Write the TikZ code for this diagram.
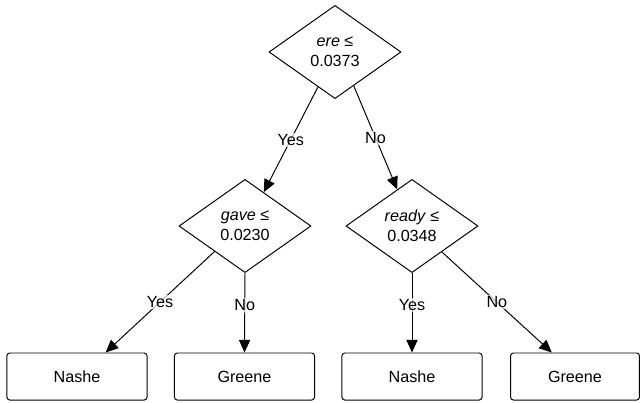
\documentclass[tikz,border=0pt]{standalone}
\usepackage{fontspec}
\setmainfont{Liberation Sans}
\usetikzlibrary{shapes, arrows.meta}

\begin{document}
\begin{tikzpicture}[x=0.025cm, y=-0.025cm,
    split/.style={draw, diamond, line width=0.7pt, minimum width=3.3cm, minimum height=2.33cm, inner sep=0pt, align=center, font=\fontsize{11.5}{14}\selectfont},
    leaf/.style={draw, rectangle, rounded corners=2pt, line width=0.7pt, minimum width=3.5cm, minimum height=1.175cm, inner sep=0pt, font=\fontsize{11.5}{14}\selectfont},
    branch/.style={line width=0.7pt, -{Triangle[length=9pt, width=8pt]}},
    lbl/.style={fill=white, fill opacity=0.7, text opacity=1, inner sep=1pt, font=\fontsize{11.5}{14}\selectfont}]
  \useasboundingbox (0, 0) rectangle (641, 403);

  % Splits
  \node[split] (ere) at (335, 52) {\textit{ere} ≤\\0.0373};
  \node[split] (gave) at (245, 226) {\textit{gave} ≤\\0.0230};
  \node[split] (ready) at (412, 226) {\textit{ready} ≤\\0.0348};

  % Leaves
  \node[leaf] (nashA) at (77, 376.5) {Nashe};
  \node[leaf] (greA) at (244.5, 376.5) {Greene};
  \node[leaf] (nashB) at (412, 376.5) {Nashe};
  \node[leaf, minimum width=3.22cm] (greB) at (575, 376.5) {Greene};

  % Branches
  \draw[branch] (ere.244) -- node[lbl] {Yes} (gave.61);
  \draw[branch] (ere.299) -- node[lbl] {No} (ready.112);
  \draw[branch] (gave.220) -- node[lbl] {Yes} (nashA.40);
  \draw[branch] (gave.south) -- node[lbl, pos=0.4] {No} (greA.north);
  \draw[branch] (ready.south) -- node[lbl, pos=0.4] {Yes} (nashB.north);
  \draw[branch] (ready.319) -- node[lbl] {No} (greB.134);
\end{tikzpicture}
\end{document}
